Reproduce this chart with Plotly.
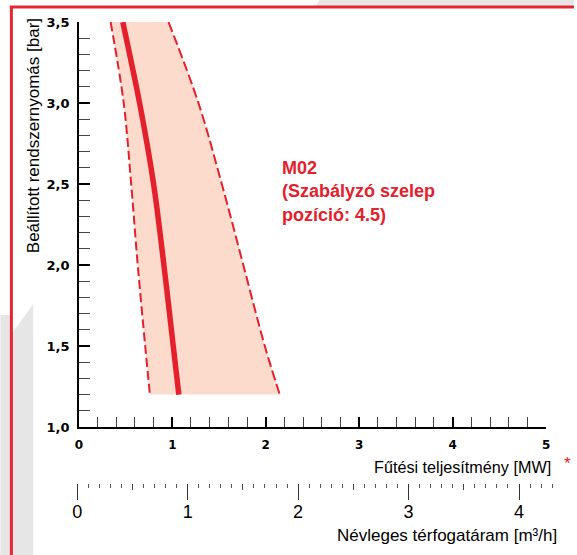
import plotly.graph_objects as go

# ---------------- data ----------------
pressure_bar = [3.5, 3.0, 2.5, 2.0, 1.5, 1.2]
power_mid_mw = [0.47, 0.65, 0.80, 0.91, 1.01, 1.07]
power_low_mw = [0.34, 0.48, 0.56, 0.63, 0.71, 0.76]
power_high_mw = [0.96, 1.28, 1.53, 1.76, 1.99, 2.15]

y_tickvals = [1.0, 1.5, 2.0, 2.5, 3.0, 3.5]
y_ticktext = ["1,0", "1,5", "2,0", "2,5", "3,0", "3,5"]
x_tickvals = [0, 1, 2, 3, 4, 5]
x_ticktext = ["0", "1", "2", "3", "4", "5"]
flow_tickvals = [0, 1, 2, 3, 4]
flow_ticktext = ["0", "1", "2", "3", "4"]
flow_half_ticks = [0.5, 1.5, 2.5, 3.5]

label_text = "M02<br>(Szabályzó szelep<br>pozíció: 4.5)"
y_title = "Beállított rendszernyomás [bar]"
x_title = "Fűtési teljesítmény [MW]"
x2_title = "Névleges térfogatáram [m³/h]"

# ---------------- layout geometry ----------------
W, H = 577, 555
ML, MR, MT, MB = 60, 10, 22, 72
PW, PH = W - ML - MR, H - MT - MB


def px_x(px):
    return (px - ML) / PW


def px_y(py):
    return (H - MB - py) / PH


RED = "#E3202B"
FILL = "#FCDACC"
GRAY = "#E6E6E6"

fig = go.Figure()

fig.add_trace(go.Scatter(
    x=power_low_mw, y=pressure_bar, mode="lines",
    line=dict(color=RED, width=2, dash="9px,4px", shape="spline"),
    hoverinfo="skip", showlegend=False))
fig.add_trace(go.Scatter(
    x=power_high_mw, y=pressure_bar, mode="lines", fill="tonextx", fillcolor=FILL,
    line=dict(color=RED, width=2, dash="10px,4px", shape="spline"),
    hoverinfo="skip", showlegend=False))
fig.add_trace(go.Scatter(
    x=power_mid_mw, y=pressure_bar, mode="lines",
    line=dict(color=RED, width=5.5, shape="spline"),
    hoverinfo="skip", showlegend=False))

# helper traces so the flow-rate axes exist
for ax, vals in (("x2", flow_tickvals), ("x3", flow_tickvals), ("x4", flow_half_ticks)):
    fig.add_trace(go.Scatter(x=vals, y=[None] * len(vals), xaxis=ax, yaxis="y",
                             mode="markers", marker=dict(opacity=0),
                             hoverinfo="skip", showlegend=False))

tick_font_bold_y = dict(family="DejaVu Sans", size=13, color="black", weight="bold")
tick_font_bold_x = dict(family="DejaVu Sans", size=12, color="black", weight="bold")

x_dom = [px_x(79), px_x(550)]
flow_px_per = (522.7 - 77.3) / 4.0
x2_dom = [px_x(77.3 - 0.01 * flow_px_per), px_x(77.3 + 4.31 * flow_px_per)]
flow_range = [-0.01, 4.31]

fig.update_layout(
    width=W, height=H, autosize=False,
    margin=dict(l=ML, r=MR, t=MT, b=MB),
    paper_bgcolor="white", plot_bgcolor="rgba(0,0,0,0)",
    showlegend=False,
    xaxis=dict(
        domain=x_dom, range=[0, 5.0005], anchor="y",
        showline=True, linecolor="black", linewidth=1.5,
        showgrid=False, zeroline=False,
        tickmode="array", tickvals=x_tickvals, ticktext=x_ticktext,
        ticks="inside", ticklen=10, tickwidth=2, tickcolor="black",
        minor=dict(ticks="inside", ticklen=10, tickwidth=1, tickcolor="#444",
                   tick0=0, dtick=0.2, showgrid=False),
        tickfont=tick_font_bold_x, ticklabelstandoff=6,
    ),
    yaxis=dict(
        domain=[px_y(427), 1], range=[1.0, 3.5005],
        showline=True, linecolor="black", linewidth=1.5,
        showgrid=False, zeroline=False,
        tickmode="array", tickvals=y_tickvals, ticktext=y_ticktext,
        ticks="inside", ticklen=11, tickwidth=2, tickcolor="black",
        minor=dict(ticks="inside", ticklen=11, tickwidth=1, tickcolor="#444",
                   tick0=1.0, dtick=0.1, showgrid=False),
        tickfont=tick_font_bold_y, ticklabelstandoff=5,
    ),
    # flow-rate scale: labels + minor ticks
    xaxis2=dict(
        domain=x2_dom, range=flow_range, anchor="free", position=0,
        showline=False, showgrid=False, zeroline=False,
        tickmode="array", tickvals=flow_tickvals, ticktext=flow_ticktext,
        ticks="outside", ticklen=12, tickwidth=1, tickcolor="#333",
        minor=dict(ticks="outside", ticklen=4, tickwidth=1, tickcolor="#555",
                   tick0=0, dtick=0.1, showgrid=False),
        tickfont=dict(family="Liberation Sans", size=18, color="black"),
    ),
    # flow-rate scale: long integer ticks
    xaxis3=dict(
        domain=x2_dom, range=flow_range, anchor="free", position=0,
        showline=False, showgrid=False, zeroline=False,
        tickmode="array", tickvals=flow_tickvals,
        ticks="outside", ticklen=16, tickwidth=1, tickcolor="#333",
        showticklabels=False,
    ),
    # flow-rate scale: half-unit ticks
    xaxis4=dict(
        domain=x2_dom, range=flow_range, anchor="free", position=0,
        showline=False, showgrid=False, zeroline=False,
        tickmode="array", tickvals=flow_half_ticks,
        ticks="outside", ticklen=6, tickwidth=1, tickcolor="#444",
        showticklabels=False,
    ),
)

# decorative frame
shapes = [
    dict(type="path", xref="paper", yref="paper", layer="below",
         path=f"M {px_x(0)},{px_y(315)} L {px_x(10)},{px_y(315)} L {px_x(10)},{px_y(556)} L {px_x(0)},{px_y(556)} Z",
         fillcolor=GRAY, line=dict(width=0)),
    dict(type="path", xref="paper", yref="paper", layer="below",
         path=f"M {px_x(12)},{px_y(333)} L {px_x(33)},{px_y(304)} L {px_x(33)},{px_y(556)} L {px_x(12)},{px_y(556)} Z",
         fillcolor=GRAY, line=dict(width=0)),
    dict(type="path", xref="paper", yref="paper", layer="below",
         path=f"M {px_x(322)},{px_y(-1)} L {px_x(578)},{px_y(-1)} L {px_x(578)},{px_y(6)} L {px_x(318)},{px_y(6)} Z",
         fillcolor=GRAY, line=dict(width=0)),
    dict(type="line", xref="paper", yref="paper", layer="above",
         x0=px_x(11), x1=px_x(11), y0=px_y(6), y1=px_y(556),
         line=dict(color="#E52530", width=3)),
    dict(type="line", xref="paper", yref="paper", layer="above",
         x0=px_x(9.5), x1=px_x(578), y0=px_y(7), y1=px_y(7),
         line=dict(color="#E52530", width=3)),
]
fig.update_layout(shapes=shapes)

annotations = [
    dict(text=label_text, xref="paper", yref="paper", x=px_x(282), y=px_y(156),
         xanchor="left", yanchor="top", align="left", showarrow=False,
         font=dict(family="Liberation Sans", size=18, color=RED, weight="bold")),
    dict(text=y_title, xref="paper", yref="paper", x=px_x(33), y=px_y(136),
         xanchor="center", yanchor="middle", textangle=-90, showarrow=False,
         font=dict(family="Liberation Sans", size=17, color="black")),
    dict(text=x_title, xref="paper", yref="paper", x=px_x(557), y=px_y(467),
         xanchor="right", yanchor="middle", showarrow=False,
         font=dict(family="Liberation Sans", size=16.2, color="black")),
    dict(text="*", xref="paper", yref="paper", x=px_x(566), y=px_y(463),
         xanchor="left", yanchor="middle", showarrow=False,
         font=dict(family="Liberation Sans", size=17, color=RED)),
    dict(text=x2_title, xref="paper", yref="paper", x=px_x(563), y=px_y(535),
         xanchor="right", yanchor="middle", showarrow=False,
         font=dict(family="Liberation Sans", size=17, color="black")),
]
fig.update_layout(annotations=annotations)

fig.write_html("out.html", config={"displayModeBar": False},
               post_script="document.body.style.margin='0';")
